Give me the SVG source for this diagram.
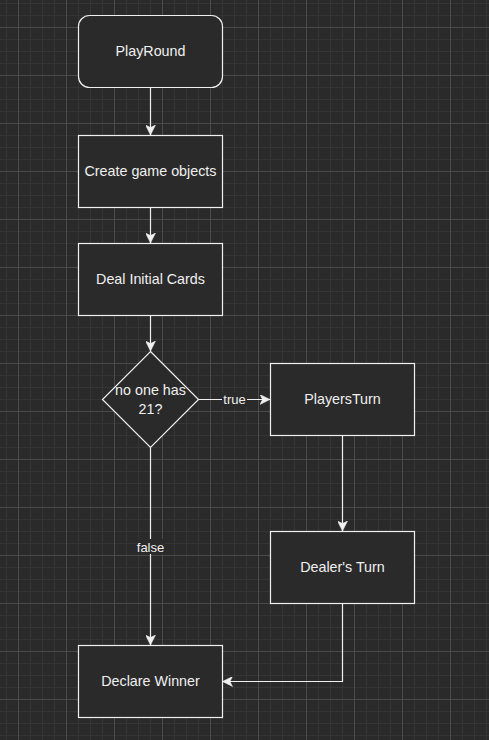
<svg xmlns="http://www.w3.org/2000/svg" width="489" height="740" viewBox="0 0 489 740">
<defs>
<pattern id="grid" x="18" y="27" width="48" height="48" patternUnits="userSpaceOnUse">
<path d="M12.5 0V48M24.5 0V48M36.5 0V48M0 12.5H48M0 24.5H48M0 36.5H48" stroke="#353535" stroke-width="1" fill="none"/>
<path d="M0.5 0V48M0 0.5H48" stroke="#4a4a4a" stroke-width="1" fill="none"/>
</pattern>
<marker id="arr" markerWidth="10" markerHeight="10" viewBox="0 0 10 10" refX="10" refY="5" orient="auto" markerUnits="userSpaceOnUse">
<path d="M0 0L10 5L0 10L2.5 5Z" fill="#f0f0f0" stroke="#f0f0f0" stroke-width="0.5"/>
</marker>
</defs>
<style>
.node{fill:#2a2a2a;stroke:#f0f0f0;stroke-width:1.2}
.t{font-family:"Liberation Sans",Arial,sans-serif;font-size:14.3px;fill:#f0f0f0;text-anchor:middle}
.lbl{font-family:"Liberation Sans",Arial,sans-serif;font-size:13px;fill:#f0f0f0;text-anchor:middle}
.e{fill:none;stroke:#f0f0f0;stroke-width:1.2}
</style>
<rect width="489" height="740" fill="#2a2a2a"/>
<rect width="489" height="740" fill="url(#grid)"/>
<g id="connectors">
<path class="e" d="M150.5 87.5V135" marker-end="url(#arr)"/>
<path class="e" d="M150.5 207.5V243" marker-end="url(#arr)"/>
<path class="e" d="M150.5 315.5V351" marker-end="url(#arr)"/>
<path class="e" d="M198.5 399.5H270" marker-end="url(#arr)"/>
<path class="e" d="M342.5 435.5V531" marker-end="url(#arr)"/>
<path class="e" d="M150.5 447.5V645" marker-end="url(#arr)"/>
<path class="e" d="M342.5 603.5V681.5H222.5" marker-end="url(#arr)"/>
<rect x="222" y="392" width="25" height="15" fill="#2a2a2a"/>
<text class="lbl" x="234.5" y="404">true</text>
<rect x="136" y="539" width="29" height="15" fill="#2a2a2a"/>
<text class="lbl" x="150.5" y="551.5">false</text>
</g>
<g id="playround">
<rect class="node" x="78.5" y="15.5" width="144" height="72" rx="11"/>
<text class="t" x="150.5" y="56">PlayRound</text>
</g>
<g id="create">
<rect class="node" x="78.5" y="135.5" width="144" height="72"/>
<text class="t" x="150.5" y="176">Create game objects</text>
</g>
<g id="deal">
<rect class="node" x="78.5" y="243.5" width="144" height="72"/>
<text class="t" x="150.5" y="284">Deal Initial Cards</text>
</g>
<g id="decision">
<path class="node" d="M150.5 351.5L198.5 399.5L150.5 447.5L102.5 399.5Z"/>
<text class="t" x="150.5" y="395">no one has</text>
<text class="t" x="150.5" y="414">21?</text>
</g>
<g id="playersturn">
<rect class="node" x="270.5" y="363.5" width="144" height="72"/>
<text class="t" x="342.5" y="404">PlayersTurn</text>
</g>
<g id="dealersturn">
<rect class="node" x="270.5" y="531.5" width="144" height="72"/>
<text class="t" x="342.5" y="572">Dealer's Turn</text>
</g>
<g id="declare">
<rect class="node" x="78.5" y="645.5" width="144" height="72"/>
<text class="t" x="150.5" y="686">Declare Winner</text>
</g>
</svg>
